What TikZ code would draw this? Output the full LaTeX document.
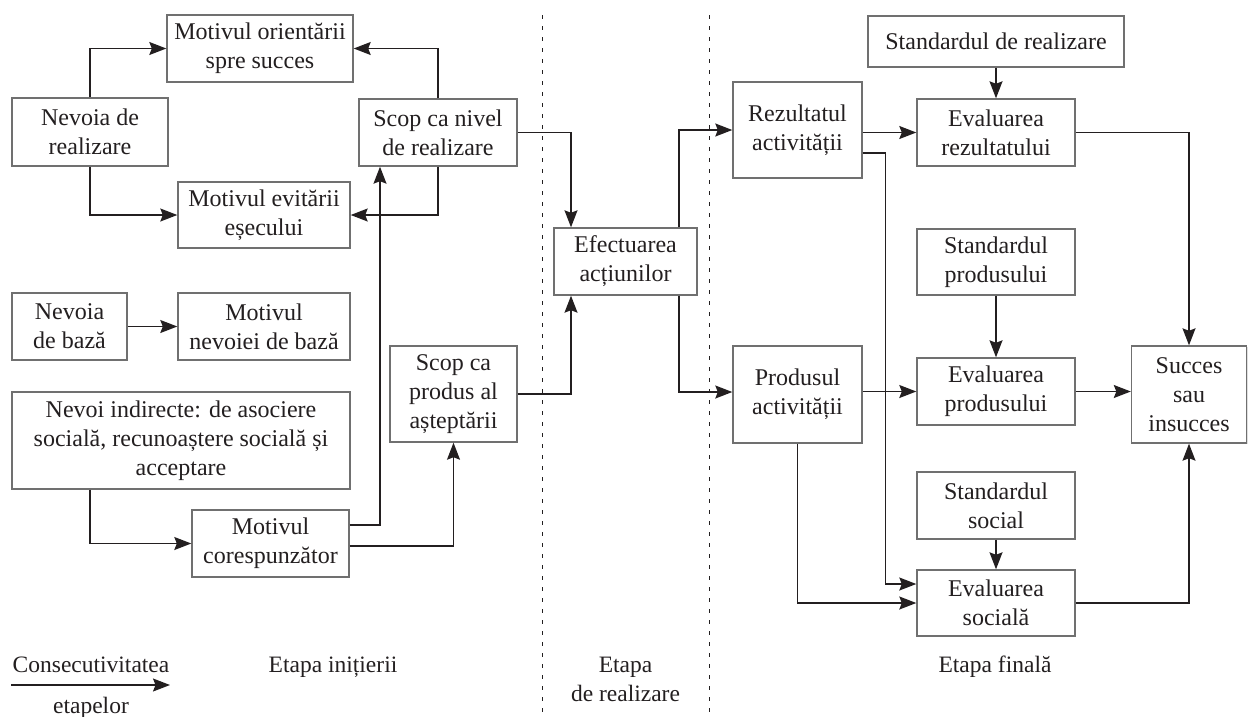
\documentclass[tikz,border=0pt]{standalone}
\usepackage{fontspec}
\setmainfont{Liberation Serif}
\usetikzlibrary{arrows.meta,positioning,shadows}
\definecolor{boxgray}{RGB}{112,112,112}
\definecolor{inkdark}{RGB}{35,31,32}

\begin{document}
\begin{tikzpicture}[
  x=1pt, y=-1pt,
  blk/.style={
    rectangle, draw=boxgray, fill=white, line width=1.4pt, text=inkdark,
    align=center, inner sep=2pt, font=\fontsize{24}{29}\selectfont,
    drop shadow={shadow xshift=1.2pt, shadow yshift=-1.2pt, opacity=.25}
  },
  wh/.style 2 args={minimum width=#1, minimum height=#2},
  arr/.style={-{Stealth[length=17pt,width=13pt,inset=2.5pt]}, line width=1.3pt, inkdark},
  sep/.style={dash pattern=on 4pt off 7pt, line width=1pt, inkdark},
  lbl/.style={align=center, inner sep=0pt, text=inkdark, font=\fontsize{23.5}{29}\selectfont}
]
  \useasboundingbox (0,0) rectangle (1248,716);

  % stage separators
  \draw[sep] (542,15) -- (542,716);
  \draw[sep] (709,15) -- (709,716);

  % initiation stage
  \node[blk, wh={186pt}{67pt}] (mos) at (260,48.5)   {Motivul orientării\\spre succes};
  \node[blk, wh={156pt}{68pt}] (nrl) at (90,132)     {Nevoia de\\realizare};
  \node[blk, wh={172pt}{66pt}] (mev) at (264,215)    {Motivul evitării\\eșecului};
  \node[blk, wh={158pt}{67pt}] (snr) at (438,132.5)  {Scop ca nivel\\de realizare};
  \node[blk, wh={115pt}{67pt}] (nbz) at (69.5,326.5) {Nevoia\\de bază};
  \node[blk, wh={172pt}{67pt}] (mnb) at (264,326.5)  {Motivul\\nevoiei de bază};
  \node[blk, wh={338pt}{97pt}] (nin) at (181,440.5)  {Nevoi indirecte: de asociere\\socială, recunoaștere socială și\\acceptare};
  \node[blk, wh={157pt}{67pt}] (mco) at (270.5,543.5) {Motivul\\corespunzător};
  \node[blk, wh={127pt}{96pt}] (spa) at (453.5,394)  {Scop ca\\produs al\\așteptării};

  % realization stage
  \node[blk, wh={143pt}{67pt}] (efa) at (625.5,261.5) {Efectuarea\\acțiunilor};

  % final stage
  \node[blk, wh={129pt}{96pt}] (rez) at (797.5,130)   {Rezultatul\\activității};
  \node[blk, wh={129pt}{97pt}] (prd) at (797.5,394.5) {Produsul\\activității};
  \node[blk, wh={256pt}{51pt}] (sdr) at (996,41.5)    {Standardul de realizare};
  \node[blk, wh={158pt}{67pt}] (erz) at (996,132.5)   {Evaluarea\\rezultatului};
  \node[blk, wh={158pt}{66pt}] (spr) at (996,262)     {Standardul\\produsului};
  \node[blk, wh={158pt}{67pt}] (epr) at (996,391.5)   {Evaluarea\\produsului};
  \node[blk, wh={158pt}{67pt}] (ssc) at (996,505.5)   {Standardul\\social};
  \node[blk, wh={158pt}{66pt}] (esc) at (996,603)     {Evaluarea\\socială};
  \node[blk, wh={115pt}{97pt}] (suc) at (1189,394.5)  {Succes\\sau\\insucces};

  % links
  \draw[arr] (nrl.north) |- (mos.west);
  \draw[arr] (nrl.south) |- (mev.west);
  \draw[arr] (snr.north) |- (mos.east);
  \draw[arr] (snr.south) |- (mev.east);
  \draw[arr] (nbz) -- (mnb);
  \draw[arr] (nin.south -| nrl) |- (mco.west);
  \draw[arr] ([yshift=18.5pt]mco.east) -| ([xshift=-58pt]snr.south);
  \draw[arr] ([yshift=-2.5pt]mco.east) -| (spa.south);
  \draw[arr] (snr.east) -| ([xshift=-54.5pt]efa.north);
  \draw[arr] (spa.east) -| ([xshift=-54.5pt]efa.south);
  \draw[arr] ([xshift=53.5pt]efa.north) |- (rez.west);
  \draw[arr] ([xshift=53.5pt]efa.south) |- ([yshift=2.5pt]prd.west);
  \draw[arr] (rez.east |- erz.west) -- (erz.west);
  \draw[arr] ([yshift=-23pt]rez.east) -- ++(23,0) |- ([yshift=19pt]esc.west);
  \draw[arr] (sdr) -- (erz);
  \draw[arr] (spr) -- (epr);
  \draw[arr] (ssc) -- (esc);
  \draw[arr] (prd.east |- epr.west) -- (epr.west);
  \draw[arr] (epr.east) -- (epr.east -| suc.west);
  \draw[arr] (erz.east) -| (suc.north);
  \draw[arr] (esc.east) -| (suc.south);
  \draw[arr] (prd.south) |- (esc.west);

  % stage labels
  \node[lbl, anchor=base] (cons) at (91,672) {Consecutivitatea};
  \coordinate (ca) at (11,685);
  \coordinate (cb) at (170,685);
  \draw[arr] (ca) -- (cb);
  \node[lbl, anchor=base] (etp) at (91,713) {etapelor};
  \node[lbl, anchor=base] (ein) at (333,672) {Etapa inițierii};
  \node[lbl, anchor=north] (ere) at (625.5,656.5) {Etapa\\de realizare};
  \node[lbl, anchor=base] (efi) at (995,672) {Etapa finală};
\end{tikzpicture}
\end{document}
